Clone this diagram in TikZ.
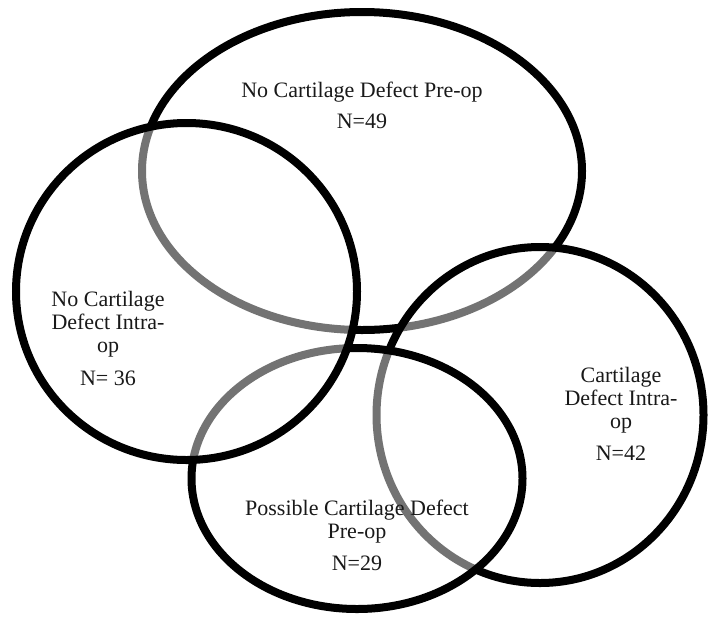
\documentclass[tikz,border=0pt]{standalone}
\usepackage{fontspec}
\setmainfont{Liberation Serif}
\usetikzlibrary{shapes.geometric}
\begin{document}
\begin{tikzpicture}[x=1pt,y=-1pt,
  vennset/.style={ellipse, draw=black, line width=8pt, fill=white, fill opacity=0.45, draw opacity=1, inner sep=0pt, outer sep=0pt},
  vennlabel/.style={align=center, anchor=base, text=black!90, inner sep=0pt, font=\fontsize{22}{23}\selectfont}]
\useasboundingbox (0,0) rectangle (708,619);
\fill[white] (0,0) rectangle (708,619);
% sets, drawn in stacking order
\node[vennset, minimum width=440pt, minimum height=318pt] (pre) at (362,171) {};
\node[vennset, minimum width=327pt, minimum height=336pt] (intra) at (540,415) {};
\node[vennset, minimum width=331pt, minimum height=261pt] (poss) at (357,478.5) {};
\node[vennset, minimum width=341pt, minimum height=337pt] (nointra) at (186.5,291.5) {};
% labels (anchor base = baseline of the last line)
\node[vennlabel] (preL) at (362,128) {No Cartilage Defect Pre-op\\[8pt]N=49};
\node[vennlabel] (nointraL) at (108,385) {No Cartilage\\Defect Intra-\\op\\[10pt]N= 36};
\node[vennlabel] (intraL) at (621,460) {Cartilage\\Defect Intra-\\op\\[9pt]N=42};
\node[vennlabel] (possL) at (357,570) {Possible Cartilage Defect\\Pre-op\\[9pt]N=29};
\end{tikzpicture}
\end{document}
